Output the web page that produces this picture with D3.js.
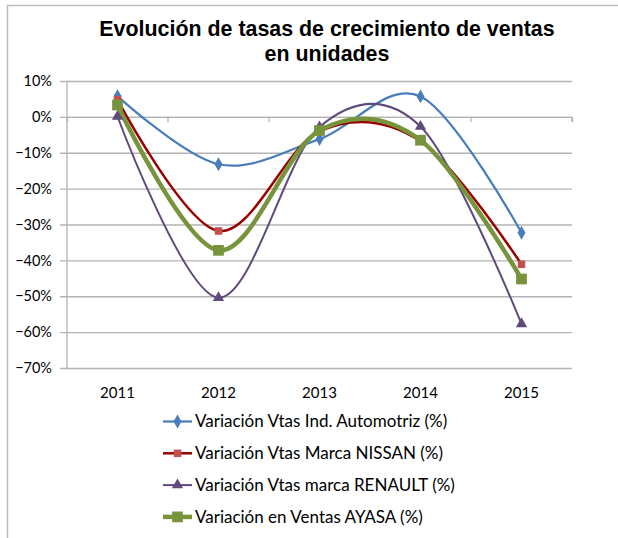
<!DOCTYPE html>
<html>
<head>
<meta charset="utf-8">
<script src="https://cdn.jsdelivr.net/npm/d3@7"></script>
<style>
  body { margin: 0; background: #fff; }
  svg text { font-family: Lato, "Open Sans", sans-serif; fill: #000; }
  .title { font-family: "Liberation Sans", Arial, sans-serif; font-weight: bold; font-size: 21.4px; }
</style>
</head>
<body>
<svg id="chart" width="618" height="538"></svg>
<script>
// Evolución de tasas de crecimiento de ventas — smoothed Excel-style lines.

const years = ["2011", "2012", "2013", "2014", "2015"];
const yTicks = [0.1, 0, -0.1, -0.2, -0.3, -0.4, -0.5, -0.6, -0.7];

const indAutomotriz = [0.058, -0.132, -0.062, 0.057, -0.323];
const nissan = [0.048, -0.318, -0.040, -0.068, -0.411];
const renault = [0.001, -0.504, -0.028, -0.027, -0.577];
const ayasa = [0.033, -0.372, -0.038, -0.065, -0.452];

const seriesNames = [
  "Variación Vtas Ind. Automotriz (%)",
  "Variación Vtas Marca NISSAN (%)",
  "Variación Vtas marca RENAULT (%)",
  "Variación en Ventas AYASA (%)"
];

const series = [
  { name: seriesNames[0], values: indAutomotriz, line: "#4a7ebb", fill: "#4a7ebb", width: 2.25, marker: "diamond", size: 55 },
  { name: seriesNames[1], values: nissan, line: "#990000", fill: "#c0504d", width: 2.5, marker: "square", size: 56 },
  { name: seriesNames[2], values: renault, line: "#604a7b", fill: "#604a7b", width: 2, marker: "triangle", size: 55 },
  { name: seriesNames[3], values: ayasa, line: "#77933c", fill: "#77933c", width: 4.5, marker: "square", size: 115 }
];

const svg = d3.select("#chart");
const grey = "#b3b3b3";

// outer chart border
svg.append("rect")
  .attr("x", 7.5).attr("y", 5.5).attr("width", 640).attr("height", 560)
  .attr("fill", "none").attr("stroke", "#bdbdbd").attr("stroke-width", 1.5);

svg.append("text").attr("class", "title").attr("x", 327).attr("y", 36)
  .attr("text-anchor", "middle").text("Evolución de tasas de crecimiento de ventas");
svg.append("text").attr("class", "title").attr("x", 327).attr("y", 61)
  .attr("text-anchor", "middle").text("en unidades");

const plotLeft = 67, plotRight = 572, plotTop = 81, plotBottom = 368;

const x = d3.scaleBand().domain(years).range([plotLeft, plotRight]);
const y = d3.scaleLinear().domain([-0.7, 0.1]).range([plotBottom, plotTop]);
const cx = d => x(d) + x.bandwidth() / 2;

// gridlines + y axis
const yAxis = d3.axisLeft(y).tickValues(yTicks).tickFormat(d3.format(".0%"))
  .tickSize(-(plotRight - plotLeft)).tickPadding(15);
const yg = svg.append("g").attr("transform", `translate(${plotLeft},0)`).call(yAxis);
yg.select(".domain").remove();
yg.selectAll(".tick line").attr("x1", -7).attr("stroke", grey).attr("stroke-width", 1.3);
yg.selectAll(".tick text").style("font-size", "14.5px");

svg.append("line").attr("x1", plotLeft).attr("x2", plotLeft).attr("y1", plotTop).attr("y2", plotBottom)
  .attr("stroke", grey).attr("stroke-width", 1.3);

// category axis crossing at 0%
const xAxis = d3.axisBottom(x).tickSizeInner(5).tickSizeOuter(5).tickFormat("");
const xg = svg.append("g").attr("transform", `translate(0,${y(0)})`).call(xAxis);
xg.select(".domain").attr("stroke", grey).attr("stroke-width", 1.3);
xg.selectAll(".tick").remove();
xg.selectAll(".bnd").data(years.slice(1).map(d => x(d)).concat([plotRight]))
  .enter().append("line")
  .attr("x1", d => d).attr("x2", d => d).attr("y1", 0).attr("y2", 5)
  .attr("stroke", grey).attr("stroke-width", 1.3);

// category labels at the bottom
svg.append("g").selectAll("text").data(years).enter().append("text")
  .attr("x", d => cx(d)).attr("y", 398).attr("text-anchor", "middle")
  .style("font-size", "15px").text(d => d);

const line = d3.line()
  .x((d, i) => cx(years[i]))
  .y(d => y(d))
  .curve(d3.curveCardinal.tension(0));

const symbolType = { diamond: d3.symbolDiamond, square: d3.symbolSquare, triangle: d3.symbolTriangle };

for (const s of series) {
  svg.append("path").attr("d", line(s.values))
    .attr("fill", "none").attr("stroke", s.line).attr("stroke-width", s.width)
    .attr("stroke-linejoin", "round");
}
for (const s of series) {
  svg.append("g").selectAll("path").data(s.values).enter().append("path")
    .attr("transform", (d, i) => `translate(${cx(years[i])},${y(d)})`)
    .attr("d", d3.symbol(symbolType[s.marker], s.size))
    .attr("fill", s.fill);
}

// legend
const lg = svg.append("g");
series.forEach((s, i) => {
  const ly = 421.5 + i * 31.8;
  lg.append("line").attr("x1", 163).attr("x2", 192).attr("y1", ly).attr("y2", ly)
    .attr("stroke", s.line).attr("stroke-width", s.width);
  lg.append("path").attr("transform", `translate(177.5,${ly})`)
    .attr("d", d3.symbol(symbolType[s.marker], s.size)).attr("fill", s.fill);
  lg.append("text").attr("x", 195).attr("y", ly).attr("dy", "0.35em")
    .style("font-size", "17px").text(s.name);
});
</script>
</body>
</html>
